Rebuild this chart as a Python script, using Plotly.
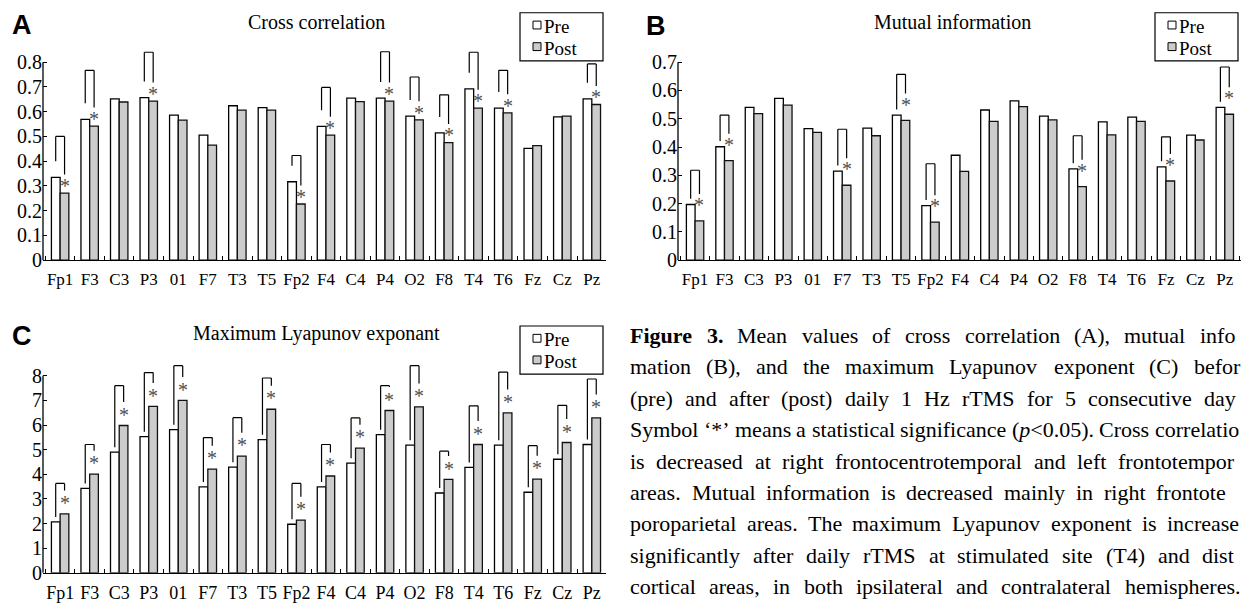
import plotly.graph_objects as go

# ---------------- data ----------------
channels = ["Fp1", "F3", "C3", "P3", "01", "F7", "T3", "T5", "Fp2", "F4",
            "C4", "P4", "O2", "F8", "T4", "T6", "Fz", "Cz", "Pz"]

cc_pre = [0.335, 0.569, 0.652, 0.657, 0.586, 0.505, 0.624, 0.616, 0.317, 0.541,
          0.655, 0.655, 0.582, 0.514, 0.692, 0.614, 0.452, 0.579, 0.652]
cc_post = [0.271, 0.542, 0.639, 0.643, 0.566, 0.465, 0.606, 0.606, 0.227, 0.505,
           0.641, 0.643, 0.567, 0.475, 0.614, 0.595, 0.463, 0.582, 0.629]
cc_bracket = [0.50, 0.767, None, 0.84, None, None, None, None, 0.423, 0.698,
              None, 0.842, 0.74, 0.668, 0.84, 0.767, None, None, 0.793]
cc_ticks = ["0", "0.1", "0.2", "0.3", "0.4", "0.5", "0.6", "0.7", "0.8"]

mi_pre = [0.197, 0.401, 0.540, 0.572, 0.465, 0.315, 0.467, 0.513, 0.193, 0.371,
          0.531, 0.563, 0.509, 0.323, 0.489, 0.506, 0.330, 0.442, 0.540]
mi_post = [0.139, 0.352, 0.518, 0.548, 0.452, 0.265, 0.440, 0.494, 0.135, 0.314,
           0.491, 0.543, 0.496, 0.260, 0.443, 0.491, 0.280, 0.425, 0.516]
mi_bracket = [0.318, 0.513, None, None, None, 0.463, None, 0.657, 0.341, None,
              None, None, None, 0.44, None, None, 0.436, None, 0.683]
mi_ticks = ["0", "0.1", "0.2", "0.3", "0.4", "0.5", "0.6", "0.7"]

le_pre = [2.07, 3.43, 4.90, 5.53, 5.81, 3.49, 4.29, 5.41, 1.97, 3.49,
          4.45, 5.61, 5.18, 3.24, 4.28, 5.18, 3.27, 4.61, 5.21]
le_post = [2.39, 4.01, 5.98, 6.76, 7.00, 4.21, 4.74, 6.64, 2.14, 3.93,
           5.06, 6.59, 6.74, 3.79, 5.21, 6.49, 3.80, 5.29, 6.29]
le_bracket = [3.63, 5.21, 7.60, 8.13, 8.41, 5.49, 6.30, 7.91, 3.63, 5.21,
              6.29, 7.60, 8.41, 4.94, 6.78, 8.15, 5.16, 6.80, 7.87]
le_ticks = ["0", "1", "2", "3", "4", "5", "6", "7", "8"]

titles = ["Cross correlation", "Mutual information", "Maximum Lyapunov exponant"]
letters = ["A", "B", "C"]
series_names = ["Pre", "Post"]

caption_lines = [
    ["<b>Figure</b>", "<b>3.</b>", "Mean", "values", "of", "cross", "correlation", "(A),", "mutual", "infor-"],
    ["mation", "(B),", "and", "the", "maximum", "Lyapunov", "exponent", "(C)", "before"],
    ["(pre)", "and", "after", "(post)", "daily", "1", "Hz", "rTMS", "for", "5", "consecutive", "days."],
    ["Symbol", "\u2018*\u2019", "means", "a", "statistical", "significance", "(<i>p</i>&lt;0.05).", "Cross", "correlation"],
    ["is", "decreased", "at", "right", "frontocentrotemporal", "and", "left", "frontotemporal"],
    ["areas.", "Mutual", "information", "is", "decreased", "mainly", "in", "right", "frontotem-"],
    ["poroparietal", "areas.", "The", "maximum", "Lyapunov", "exponent", "is", "increased"],
    ["significantly", "after", "daily", "rTMS", "at", "stimulated", "site", "(T4)", "and", "distal"],
    ["cortical", "areas,", "in", "both", "ipsilateral", "and", "contralateral", "hemispheres."],
]

# ---------------- layout helpers ----------------
W, H = 1243, 610
SERIF = "Liberation Serif"


def fx(px):
    return px / W


def fy(py):
    return 1 - py / H


panels = [
    dict(pre=cc_pre, post=cc_post, br=cc_bracket, ticks=cc_ticks, xa="x", ya="y",
         xdom=(43, 606), xr=[-0.58, 18.48], ydom=(265, 38.1), yr=[0, 0.9],
         lg=0.065, rg=0.075, ag=0.045, title_xy=(316, 22), letter_xy=(22, 25),
         legend_xy=(520, 13), xfont=17),
    dict(pre=mi_pre, post=mi_post, br=mi_bracket, ticks=mi_ticks, xa="x2", ya="y2",
         xdom=(678, 1241), xr=[-0.58, 18.55], ydom=(265, 34.5), yr=[0, 0.8],
         lg=0.02, rg=0.095, ag=0.07, title_xy=(952, 22), letter_xy=(656, 26),
         legend_xy=(1155, 13), xfont=17),
    dict(pre=le_pre, post=le_post, br=le_bracket, ticks=le_ticks, xa="x3", ya="y3",
         xdom=(43, 606), xr=[-0.58, 18.48], ydom=(583.3, 357.6), yr=[0, 9],
         lg=0.2, rg=0.95, ag=0.6, title_xy=(316, 340), letter_xy=(22, 342),
         legend_xy=(520, 332), xfont=18),
]

fig = go.Figure()
shapes = []
annotations = []
layout_axes = {}
BW = 0.15  # half distance between pre/post bar centres (category units)

for k, p in enumerate(panels):
    xa, ya = p["xa"], p["ya"]
    fig.add_trace(go.Bar(x=channels, y=p["pre"], name=series_names[0], xaxis=xa, yaxis=ya,
                         marker=dict(color="white", line=dict(color="black", width=1.3)),
                         showlegend=False))
    fig.add_trace(go.Bar(x=channels, y=p["post"], name=series_names[1], xaxis=xa, yaxis=ya,
                         marker=dict(color="#cccccc", line=dict(color="#111111", width=1.3)),
                         showlegend=False))
    xkey = "xaxis" + xa[1:]
    ykey = "yaxis" + ya[1:]
    tickvals = [float(t) for t in p["ticks"]]
    layout_axes[xkey] = dict(
        domain=[fx(p["xdom"][0]), fx(p["xdom"][1])], range=p["xr"], type="category",
        anchor=ya, showline=True, linecolor="black", linewidth=1.3, ticks="inside",
        tickson="boundaries", ticklen=4, tickwidth=1.2, tickcolor="black", tickangle=0,
        tickfont=dict(family=SERIF, size=p["xfont"], color="black"), showgrid=False,
        zeroline=False, ticklabelstandoff=3)
    layout_axes[ykey] = dict(
        domain=[fy(p["ydom"][0]), fy(p["ydom"][1])], range=p["yr"], anchor=xa,
        showline=False, ticks="inside", ticklen=4, tickwidth=1.2, tickcolor="black",
        tickvals=tickvals, ticktext=p["ticks"], showgrid=False, zeroline=False,
        tickfont=dict(family=SERIF, size=20, color="black"))
    # y axis line only up to the last tick
    shapes.append(dict(type="line", xref=xa + " domain", yref=ya, x0=0, x1=0, y0=0,
                       y1=tickvals[-1], line=dict(color="black", width=1.3)))
    # significance brackets and asterisks
    for i, top in enumerate(p["br"]):
        if top is None:
            continue
        xl, xr = i - BW, i + BW
        yl = p["pre"][i] + p["lg"]
        yr_ = p["post"][i] + p["rg"]
        for (x0, y0, x1, y1) in [(xl, yl, xl, top), (xl, top, xr, top), (xr, top, xr, yr_)]:
            shapes.append(dict(type="line", xref=xa, yref=ya, x0=x0, y0=y0, x1=x1, y1=y1,
                               line=dict(color="black", width=1.2)))
        annotations.append(dict(x=xr, y=p["post"][i] + p["ag"], xref=xa, yref=ya, text="*",
                                showarrow=False, xanchor="center", yanchor="middle", yshift=-4,
                                font=dict(family=SERIF, size=20, color="#505050")))
    # title and panel letter
    tx, ty = p["title_xy"]
    annotations.append(dict(x=fx(tx), y=fy(ty), xref="paper", yref="paper", text=titles[k],
                            showarrow=False, xanchor="center", yanchor="middle",
                            font=dict(family=SERIF, size=20, color="black")))
    lx, ly = p["letter_xy"]
    annotations.append(dict(x=fx(lx), y=fy(ly), xref="paper", yref="paper",
                            text="<b>" + letters[k] + "</b>", showarrow=False,
                            xanchor="center", yanchor="middle",
                            font=dict(family="Liberation Sans", size=27, color="black")))
    # legend box
    bx, by = p["legend_xy"]
    shapes.append(dict(type="rect", xref="paper", yref="paper", x0=fx(bx), x1=fx(bx + 83),
                       y0=fy(by), y1=fy(by + 49), line=dict(color="black", width=1.2),
                       fillcolor="white", layer="above"))
    for j, (fill, ty_) in enumerate([("white", 14.0), ("#cccccc", 36.0)]):
        shapes.append(dict(type="rect", xref="paper", yref="paper", x0=fx(bx + 13),
                           x1=fx(bx + 21), y0=fy(by + ty_ - 5.5), y1=fy(by + ty_ + 2.5),
                           line=dict(color="black", width=1), fillcolor=fill, layer="above"))
        annotations.append(dict(x=fx(bx + 24), y=fy(by + ty_), xref="paper", yref="paper",
                                text=series_names[j], showarrow=False, xanchor="left",
                                yanchor="middle", borderpad=0, borderwidth=0,
                                font=dict(family=SERIF, size=19, color="black")))

# ---------------- caption (justified, Times metrics) ----------------
REG = {" ": 250, "(": 333, ")": 333, "*": 500, ",": 250, "-": 333, ".": 250, "<": 564,
       "\u2018": 333, "\u2019": 333,
       "A": 722, "B": 667, "C": 667, "D": 722, "E": 611, "F": 556, "G": 722, "H": 722,
       "I": 333, "J": 389, "K": 722, "L": 611, "M": 889, "N": 722, "O": 722, "P": 556,
       "Q": 722, "R": 667, "S": 556, "T": 611, "U": 722, "V": 722, "W": 944, "X": 722,
       "Y": 722, "Z": 611,
       "a": 444, "b": 500, "c": 444, "d": 500, "e": 444, "f": 333, "g": 500, "h": 500,
       "i": 278, "j": 278, "k": 500, "l": 278, "m": 778, "n": 500, "o": 500, "p": 500,
       "q": 500, "r": 333, "s": 389, "t": 278, "u": 500, "v": 500, "w": 722, "x": 500,
       "y": 500, "z": 444}
for d in "0123456789":
    REG[d] = 500
BOLD = dict(REG)
BOLD.update({"F": 611, "u": 556, "r": 444})


def plain_chars(word):
    out = []
    bold = False
    i = 0
    while i < len(word):
        if word.startswith("<b>", i):
            bold = True; i += 3; continue
        if word.startswith("</b>", i):
            bold = False; i += 4; continue
        if word.startswith("<i>", i):
            i += 3; continue
        if word.startswith("</i>", i):
            i += 4; continue
        if word.startswith("&lt;", i):
            out.append(("<", bold)); i += 4; continue
        out.append((word[i], bold)); i += 1
    return out


def word_width(word, size):
    return sum((BOLD if b else REG).get(c, 500) for c, b in plain_chars(word)) * size / 1000.0


CAP_SIZE = 22
CAP_LEFT = 630
CAP_RIGHTS = [1250] * 8 + [1240]
CAP_Y0, CAP_DY = 341.5, 32.0

for li, words in enumerate(caption_lines):
    widths = [word_width(w, CAP_SIZE) for w in words]
    gap = (CAP_RIGHTS[li] - CAP_LEFT - sum(widths)) / (len(words) - 1)
    x = CAP_LEFT
    yc = CAP_Y0 + li * CAP_DY
    for w, wd in zip(words, widths):
        shown = w
        # text running past the right edge of the page is cut off
        while shown and x + word_width(shown, CAP_SIZE) > W - 1:
            shown = shown[:-1]
        if shown:
            annotations.append(dict(x=fx(x), y=fy(yc), xref="paper", yref="paper", text=shown,
                                    showarrow=False, xanchor="left", yanchor="middle",
                                    borderpad=0, borderwidth=0,
                                    font=dict(family=SERIF, size=CAP_SIZE, color="black")))
        x += wd + gap

fig.update_layout(
    width=W, height=H, margin=dict(l=0, r=0, t=0, b=0),
    paper_bgcolor="white", plot_bgcolor="white",
    barmode="group", bargap=0.41, bargroupgap=0,
    shapes=shapes, annotations=annotations, showlegend=False,
    **layout_axes,
)

fig.write_html(
    "out.html",
    config={"displayModeBar": False},
    post_script="document.body.style.margin='0';document.body.style.padding='0';"
                "document.body.style.overflow='hidden';",
)
